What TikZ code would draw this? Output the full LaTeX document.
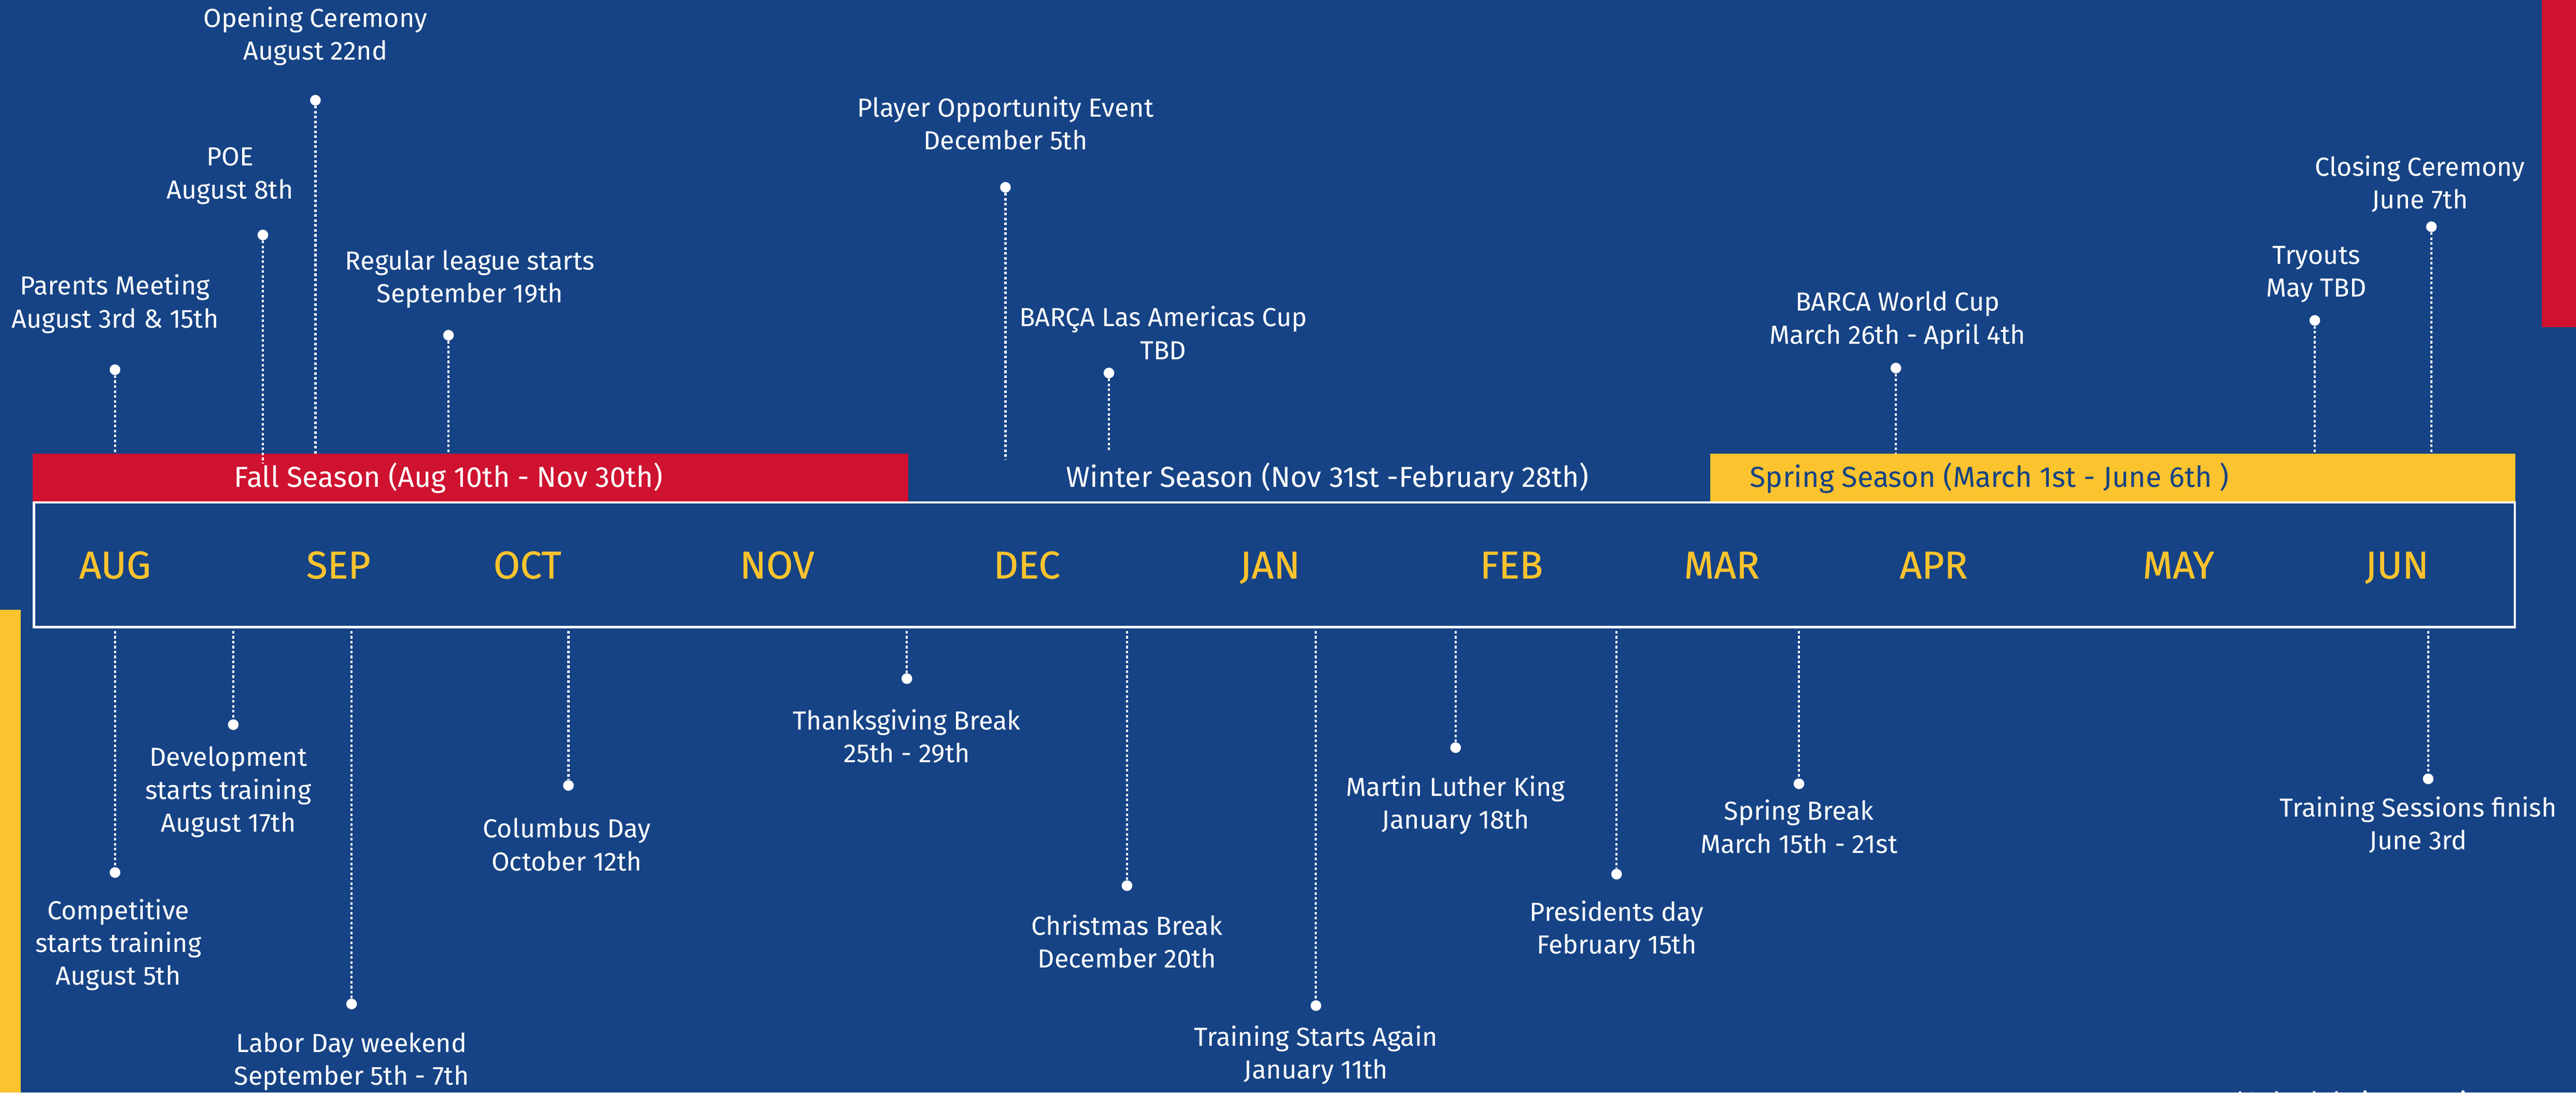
\documentclass[tikz,border=0pt]{standalone}
\usepackage{fontspec}
\setmainfont{Fira Sans}
\newfontfamily\medfont[FakeBold=0.7]{Fira Sans}
\definecolor{bg}{RGB}{22,67,133}
\definecolor{fcred}{RGB}{206,18,48}
\definecolor{fcyel}{RGB}{251,195,45}
\begin{document}
\begin{tikzpicture}[x=1pt,y=-1pt,
  lbl/.style={text=white, font=\fontsize{15.9}{20}\selectfont, align=center, inner sep=0pt},
  mon/.style={text=fcyel, font=\medfont\fontsize{23.5}{28}\selectfont, inner sep=0pt, anchor=base},
  dotnode/.style={circle, fill=white, inner sep=0pt, minimum size=6.5pt},
  conn/.style={white, line width=1.3pt, dash pattern=on 1.6pt off 1.4pt},
  season/.style={font=\fontsize{17.6}{20}\selectfont, inner sep=0pt}]
\fill[bg] (0,0) rectangle (1568,665);
\useasboundingbox (0,0) rectangle (1568,665);
\clip (0,0) rectangle (1568,665);
% side bars
\fill[fcred] (1547,0) rectangle (1568,199);
\fill[fcyel] (0,371) rectangle (12.6,665);
% seasons
\fill[fcred] (20,276) rectangle (553,305);
\fill[fcyel] (1041,276) rectangle (1531,305);
\node[season, text=white] (fall) at (273,291) {Fall Season (Aug 10th - Nov 30th)};
\node[season, text=white] (winter) at (808,291) {Winter Season (Nov 31st -February 28th)};
\node[season, text=bg] (spring) at (1211,291) {Spring Season (March 1st - June 6th )};
% timeline box
\node[draw=white, line width=1.3pt, minimum width=1510pt, minimum height=76pt, inner sep=0pt, anchor=north west] (tl) at (20,305) {};
% months
\node[mon] (aug) at (70,352) {AUG};
\node[mon] (sep) at (206,352) {SEP};
\node[mon] (oct) at (321,352) {OCT};
\node[mon] (nov) at (473,352) {NOV};
\node[mon] (dec) at (625,352) {DEC};
\node[mon] (jan) at (773,352) {JAN};
\node[mon] (feb) at (920,352) {FEB};
\node[mon] (mar) at (1048,352) {MAR};
\node[mon] (apr) at (1177,352) {APR};
\node[mon] (may) at (1326,352) {MAY};
\node[mon] (jun) at (1459,352) {JUN};
% ---- top events
\node[lbl] (tParents) at (70,185) {Parents Meeting\\August 3rd \& 15th};
\node[dotnode] (dParents) at (70,225) {};
\coordinate (eParents) at (70,276);
\draw[conn] (dParents) -- (eParents);

\node[lbl] (tPOE) at (140,107) {POE\\August 8th};
\node[dotnode] (dPOE) at (160,143) {};
\coordinate (ePOE) at (160,282);
\draw[conn] (dPOE) -- (ePOE);

\node[lbl] (tOpen) at (192,22) {Opening Ceremony\\August 22nd};
\node[dotnode] (dOpen) at (192,61) {};
\coordinate (eOpen) at (192,276);
\draw[conn] (dOpen) -- (eOpen);

\node[lbl] (tLeague) at (286,170) {Regular league starts\\September 19th};
\node[dotnode] (dLeague) at (273,204) {};
\coordinate (eLeague) at (273,276);
\draw[conn] (dLeague) -- (eLeague);

\node[lbl] (tPlayer) at (612,75) {Player Opportunity Event\\December 5th};
\node[dotnode] (dPlayer) at (612,114) {};
\coordinate (ePlayer) at (612,280);
\draw[conn] (dPlayer) -- (ePlayer);

\node[lbl] (tBarca) at (708,202.5) {BARÇA Las Americas Cup\\TBD};
\node[dotnode] (dBarca) at (675,227) {};
\coordinate (eBarca) at (675,274);
\draw[conn] (dBarca) -- (eBarca);

\node[lbl] (tWorld) at (1155,195) {BARCA World Cup\\March 26th - April 4th};
\node[dotnode] (dWorld) at (1154,224) {};
\coordinate (eWorld) at (1154,276);
\draw[conn] (dWorld) -- (eWorld);

\node[lbl] (tTry) at (1410,167) {Tryouts\\May TBD};
\node[dotnode] (dTry) at (1409,195) {};
\coordinate (eTry) at (1409,276);
\draw[conn] (dTry) -- (eTry);

\node[lbl] (tClose) at (1473,112) {Closing Ceremony\\June 7th};
\node[dotnode] (dClose) at (1480,138) {};
\coordinate (eClose) at (1480,276);
\draw[conn] (dClose) -- (eClose);
% ---- bottom events
\coordinate (bComp) at (70,384);
\node[dotnode] (dComp) at (70,531) {};
\draw[conn] (bComp) -- (dComp);
\node[lbl] (tComp) at (72,575) {Competitive\\starts training\\August 5th};

\coordinate (bDev) at (142,384);
\node[dotnode] (dDev) at (142,441) {};
\draw[conn] (bDev) -- (dDev);
\node[lbl] (tDev) at (139,482) {Development\\starts training\\August 17th};

\coordinate (bLabor) at (214,384);
\node[dotnode] (dLabor) at (214,611) {};
\draw[conn] (bLabor) -- (dLabor);
\node[lbl] (tLabor) at (214,646) {Labor Day weekend\\September 5th - 7th};

\coordinate (bColumbus) at (346,384);
\node[dotnode] (dColumbus) at (346,478) {};
\draw[conn] (bColumbus) -- (dColumbus);
\node[lbl] (tColumbus) at (345,514) {Columbus Day\\October 12th};

\coordinate (bThanks) at (552,384);
\node[dotnode] (dThanks) at (552,413) {};
\draw[conn] (bThanks) -- (dThanks);
\node[lbl] (tThanks) at (552,448) {Thanksgiving Break\\25th - 29th};

\coordinate (bXmas) at (686,384);
\node[dotnode] (dXmas) at (686,539) {};
\draw[conn] (bXmas) -- (dXmas);
\node[lbl] (tXmas) at (686,573) {Christmas Break\\December 20th};

\coordinate (bTrain) at (801,384);
\node[dotnode] (dTrain) at (801,612) {};
\draw[conn] (bTrain) -- (dTrain);
\node[lbl] (tTrain) at (801,642) {Training Starts Again\\January 11th};

\coordinate (bMLK) at (886,384);
\node[dotnode] (dMLK) at (886,455) {};
\draw[conn] (bMLK) -- (dMLK);
\node[lbl] (tMLK) at (886,490) {Martin Luther King\\January 18th};

\coordinate (bPres) at (984,384);
\node[dotnode] (dPres) at (984,532) {};
\draw[conn] (bPres) -- (dPres);
\node[lbl] (tPres) at (984,566) {Presidents day\\February 15th};

\coordinate (bSpring) at (1095,384);
\node[dotnode] (dSpring) at (1095,477) {};
\draw[conn] (bSpring) -- (dSpring);
\node[lbl] (tSpring) at (1095,503) {Spring Break\\March 15th - 21st};

\coordinate (bFinish) at (1478,384);
\node[dotnode] (dFinish) at (1478,474) {};
\draw[conn] (bFinish) -- (dFinish);
\node[lbl] (tFinish) at (1472,502) {Training Sessions finish\\June 3rd};
% note
\node[lbl, anchor=base west] (note) at (1360,676) {*Schedule is tentative};
\end{tikzpicture}
\end{document}
